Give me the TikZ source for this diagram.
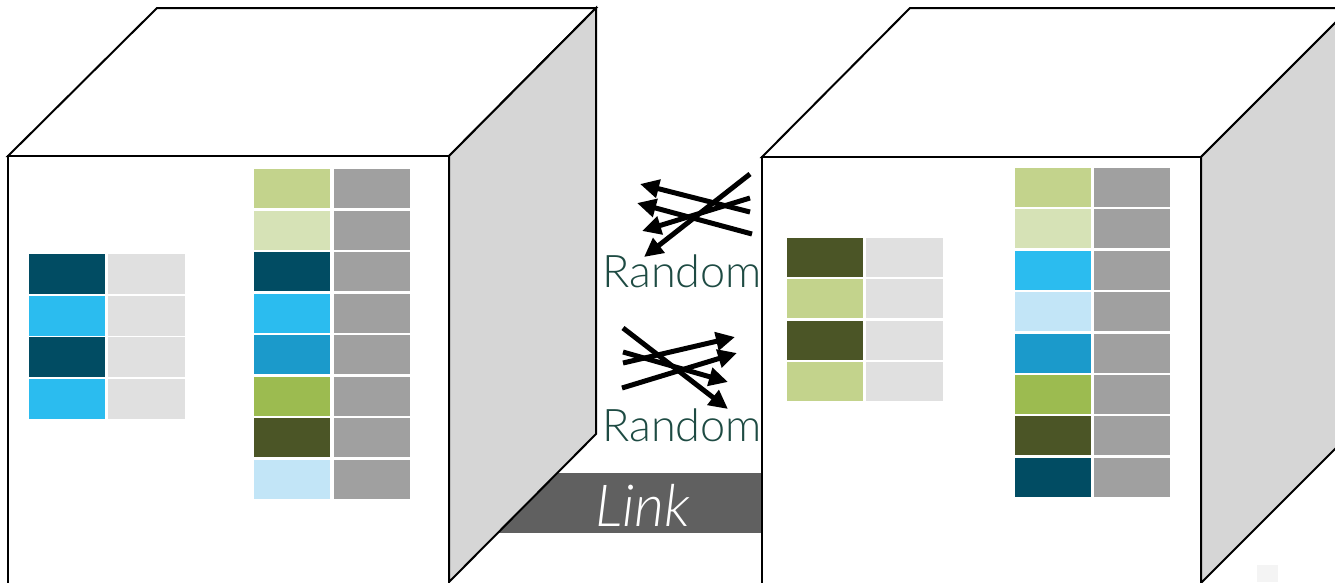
\documentclass[tikz,border=0pt]{standalone}
\usepackage{fontspec}
\setmainfont{Lato}
\newfontfamily\thinfont{Lato Light}[ItalicFont={Lato Light Italic}]
\usetikzlibrary{arrows.meta}

\definecolor{sideface}{HTML}{D6D6D6}
\definecolor{linkbar}{HTML}{606060}
\definecolor{randomtext}{HTML}{1E4B43}
\definecolor{sage}{HTML}{C3D38C}
\definecolor{pale}{HTML}{D6E2B6}
\definecolor{navy}{HTML}{014C63}
\definecolor{sky}{HTML}{2BBCEF}
\definecolor{ocean}{HTML}{1B9ACB}
\definecolor{leaf}{HTML}{9CBB50}
\definecolor{olive}{HTML}{4B5526}
\definecolor{ice}{HTML}{C2E5F7}
\definecolor{keygrey}{HTML}{A0A0A0}
\definecolor{valgrey}{HTML}{E0E0E0}
\definecolor{specklegrey}{HTML}{F4F4F4}

\tikzset{
  edge/.style={draw=black, line width=2pt, line join=miter},
  swap/.style={line width=5pt, -{Triangle[length=19pt,width=18pt]}},
  randomlabel/.style={anchor=base west, inner sep=0pt, text=randomtext,
    font=\thinfont\fontsize{45}{45}\selectfont},
}

\begin{document}
\begin{tikzpicture}[x=1pt, y=-1pt]
\useasboundingbox (0,0) rectangle (1335,582);
\clip (0,0) rectangle (1335,582);

% link bar running behind both boxes
\fill[linkbar] (480,473) rectangle (762,533);
\node[inner sep=0pt, anchor=base, text=white,
      font=\thinfont\itshape\fontsize{58}{58}\selectfont] (link) at (643,526) {Link};

% ---------- left box ----------
\path[edge, fill=white] (8,156) -- (157,8) -- (596,8) -- (449,156) -- cycle;
\path[edge, fill=sideface] (449,156) -- (596,8) -- (596,434) -- (449,582) -- cycle;
\path[edge, fill=white] (8,590) -- (8,156) -- (449,156) -- (449,590);

% small table
\foreach \c [count=\i from 0] in {navy, sky, navy, sky} {
  \fill[\c] (29,{254+41.7*\i}) rectangle ++(76,40);
  \fill[valgrey] (108,{254+41.7*\i}) rectangle ++(77,40);
}
% large table
\foreach \c [count=\i from 0] in {sage, pale, navy, sky, ocean, leaf, olive, ice} {
  \fill[\c] (254,{169+41.5*\i}) rectangle ++(76,39);
  \fill[keygrey] (334,{169+41.5*\i}) rectangle ++(76,39);
}

% ---------- right box ----------
\path[edge, fill=white] (762,157) -- (910,8) -- (1350,8) -- (1201,157) -- cycle;
\path[edge, fill=sideface] (1201,157) -- (1350,8) -- (1350,434) -- (1201,583) -- cycle;
\path[edge, fill=white] (762,590) -- (762,157) -- (1201,157) -- (1201,590);

% small table
\foreach \c [count=\i from 0] in {olive, sage, olive, sage} {
  \fill[\c] (787,{238+41.3*\i}) rectangle ++(76,39);
  \fill[valgrey] (866,{238+41.3*\i}) rectangle ++(77,39);
}
% large table
\foreach \c [count=\i from 0] in {sage, pale, sky, ice, ocean, leaf, olive, navy} {
  \fill[\c] (1015,{168+41.4*\i}) rectangle ++(76,39);
  \fill[keygrey] (1094,{168+41.4*\i}) rectangle ++(76,39);
}

\fill[specklegrey] (1257,565) rectangle (1278,582);

% ---------- shuffled arrows ----------
\coordinate (u1s) at (750,212); \coordinate (u1e) at (640,184);
\coordinate (u2s) at (752,234); \coordinate (u2e) at (637,203);
\coordinate (u3s) at (750,198); \coordinate (u3e) at (642,231);
\coordinate (u4s) at (750,174); \coordinate (u4e) at (644,257);
\draw[swap] (u1s) -- (u1e);
\draw[swap] (u2s) -- (u2e);
\draw[swap] (u3s) -- (u3e);
\draw[swap] (u4s) -- (u4e);
\node[randomlabel] (rand1) at (602,287) {Random};

\coordinate (d1s) at (623,328); \coordinate (d1e) at (728,409);
\coordinate (d2s) at (623,363); \coordinate (d2e) at (735,337);
\coordinate (d3s) at (622,388); \coordinate (d3e) at (737,353);
\coordinate (d4s) at (623,352); \coordinate (d4e) at (728,382);
\draw[swap] (d1s) -- (d1e);
\draw[swap] (d2s) -- (d2e);
\draw[swap] (d3s) -- (d3e);
\draw[swap] (d4s) -- (d4e);
\node[randomlabel] (rand2) at (602,441) {Random};
\end{tikzpicture}
\end{document}
